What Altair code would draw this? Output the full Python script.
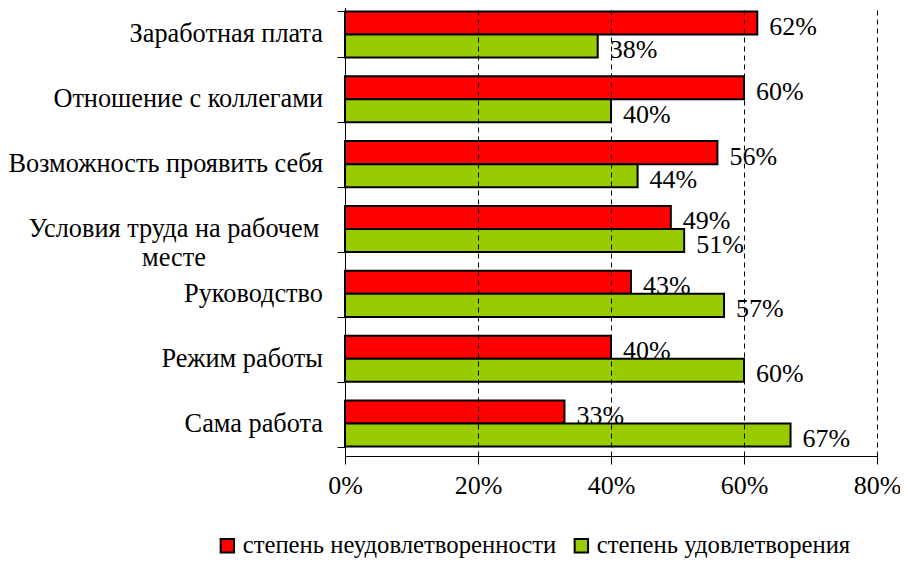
import altair as alt
import pandas as pd

categories = [
    "Заработная плата",
    "Отношение с коллегами",
    "Возможность проявить себя",
    "Условия труда на рабочем\nместе",
    "Руководство",
    "Режим работы",
    "Сама работа",
]
series_names = ["степень неудовлетворенности", "степень удовлетворения"]
dissatisfaction = [0.62, 0.60, 0.56, 0.49, 0.43, 0.40, 0.33]
satisfaction = [0.38, 0.40, 0.44, 0.51, 0.57, 0.60, 0.67]
x_ticks = [0, 0.2, 0.4, 0.6, 0.8]
colors = ["#FF0000", "#99CC00"]

rows = []
for c, d, s in zip(categories, dissatisfaction, satisfaction):
    rows.append({"cat": c, "series": series_names[0], "value": d})
    rows.append({"cat": c, "series": series_names[1], "value": s})
df = pd.DataFrame(rows)
cat_df = pd.DataFrame({"cat": categories})

FONT = "Liberation Serif"
CAT_SIZE = 26.3

y_enc = alt.Y(
    "cat:N",
    sort=categories,
    scale=alt.Scale(domain=categories, paddingInner=0.29, paddingOuter=0.145),
    axis=alt.Axis(
        title=None, labels=False, tickBand="extent", tickSize=8,
        tickColor="black", domainColor="black", grid=False, zindex=2,
    ),
)
yoff_enc = alt.YOffset(
    "series:N", sort=series_names,
    scale=alt.Scale(domain=series_names, paddingInner=0, paddingOuter=0),
)
x_enc = alt.X(
    "value:Q",
    scale=alt.Scale(domain=[0, 0.8], nice=False),
    axis=alt.Axis(
        title=None, values=x_ticks, format=".0%", grid=True,
        gridColor="black", gridDash=[5, 4], gridOpacity=1, gridWidth=1,
        tickColor="black", tickSize=8, domainColor="black",
        labelFont=FONT, labelFontSize=26, labelColor="black", labelPadding=8,
        labelFlush=False, zindex=1,
    ),
)

bars = alt.Chart(df).mark_bar(stroke="black", strokeWidth=2).encode(
    x=x_enc,
    y=y_enc,
    yOffset=yoff_enc,
    color=alt.Color(
        "series:N",
        scale=alt.Scale(domain=series_names, range=colors),
        legend=alt.Legend(
            title=None, orient="none", direction="horizontal",
            legendX=-130, legendY=531, symbolType="square", symbolSize=180,
            symbolStrokeColor="black", symbolStrokeWidth=2,
            labelFont=FONT, labelFontSize=24.7, labelColor="black",
            labelOffset=3, columnPadding=12, padding=0, labelLimit=600,
        ),
    ),
)

values_text = alt.Chart(df).mark_text(
    align="left", baseline="middle", dx=12, dy=4,
    font=FONT, fontSize=26, color="black",
).encode(
    x="value:Q",
    y=alt.Y("cat:N", sort=categories),
    yOffset=alt.YOffset("series:N", sort=series_names),
    text=alt.Text("value:Q", format=".0%"),
)

cat_single = alt.Chart(cat_df).transform_filter(
    "indexof(datum.cat, '\\n') < 0"
).mark_text(
    align="right", baseline="middle", font=FONT, fontSize=CAT_SIZE, color="black",
).encode(
    x=alt.value(-22),
    y=alt.Y("cat:N", sort=categories),
    text="cat:N",
)

cat_multi = alt.Chart(cat_df).transform_filter(
    "indexof(datum.cat, '\\n') >= 0"
).mark_text(
    align="center", baseline="middle", font=FONT, fontSize=CAT_SIZE, color="black",
    lineBreak="\n", lineHeight=29,
).encode(
    x=alt.value(-171),
    y=alt.Y("cat:N", sort=categories),
    text="cat:N",
)

chart = alt.layer(bars, values_text, cat_single, cat_multi).properties(
    width=532, height=454,
    background="white",
    autosize=alt.AutoSizeParams(type="none"),
    padding={"left": 337, "top": -6, "right": 23, "bottom": 106},
).configure_view(stroke=None)

chart.save("out.html", embed_options={"renderer": "svg", "actions": False})
